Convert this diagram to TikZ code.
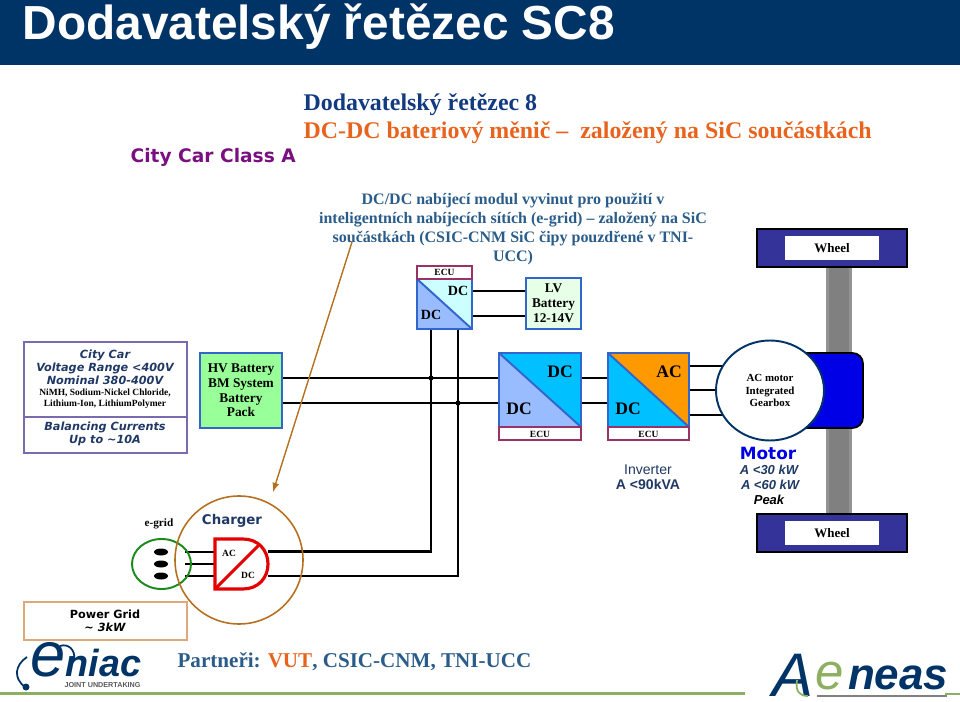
\documentclass[tikz,border=0pt]{standalone}
\usepackage{fontspec}
\setmainfont{Liberation Serif}
\setsansfont{Liberation Sans}
\newfontfamily\widefont{DejaVu Sans}
\usetikzlibrary{calc}
\definecolor{fhead}{HTML}{003366}
\definecolor{shead}{HTML}{123A80}
\definecolor{snote}{HTML}{2A5C8A}
\definecolor{sorange}{HTML}{E8641E}
\definecolor{sclass}{HTML}{7A1080}
\definecolor{snavy}{HTML}{1F3864}
\definecolor{sbox}{HTML}{3366CC}
\definecolor{secu}{HTML}{993366}
\definecolor{fhv}{HTML}{99FF99}
\definecolor{flv}{HTML}{E6FFE6}
\definecolor{fcyan}{HTML}{00C0FF}
\definecolor{fpale}{HTML}{99BBFF}
\definecolor{flight}{HTML}{CCFFFF}
\definecolor{forange}{HTML}{FF9900}
\definecolor{sbrown}{HTML}{B5701F}
\definecolor{sgreen}{HTML}{1B8A1B}
\definecolor{fwheel}{HTML}{33339A}
\definecolor{fmotor}{HTML}{0000E6}
\definecolor{sgrid}{HTML}{E0A878}
\definecolor{sleaf}{HTML}{8DB060}
\definecolor{sclassbox}{HTML}{7A6AB0}
\tikzset{
  bus/.style={line width=1.7pt,black},
  label/.style={align=center,inner sep=0pt,font=\fontsize{8}{9.5}\selectfont\bfseries},
  biglabel/.style={inner sep=0pt,font=\fontsize{10}{12}\selectfont\bfseries},
  ecutext/.style={inner sep=0pt,font=\fontsize{5.4}{6}\selectfont\bfseries},
  ecubox/.style={draw=secu,line width=0.9pt,fill=white},
  wheelbox/.style={draw=black,line width=0.6pt,fill=fwheel},
  wheeltext/.style={fill=white,minimum width=53.2pt,minimum height=13.6pt,inner sep=0pt,font=\fontsize{7.4}{8}\selectfont\bfseries},
  boxtext/.style={align=center,inner sep=0pt,text=snavy,font=\fontsize{6.4}{7.3}\selectfont\widefont\bfseries\itshape},
  conv/.style={draw=sbox,line width=1.1pt},
}
\begin{document}
\begin{tikzpicture}[x=0.02cm,y=-0.02cm,line width=0.7pt]
\useasboundingbox (0,0) rectangle (960,702);
% header
\fill[fhead] (0,0) rectangle (960,65);
\node[anchor=west,inner sep=0pt,text=white,font=\fontsize{27.2}{30}\selectfont\sffamily\bfseries] (title) at (22,27) {Dodavatelský řetězec SC8};
\node[anchor=west,inner sep=0pt,text=shead,font=\fontsize{13.6}{16}\selectfont\bfseries] (subtitle) at (303,105) {Dodavatelský řetězec 8};
\node[anchor=west,inner sep=0pt,text=sorange,font=\fontsize{13.6}{16}\selectfont\bfseries] (subtitleb) at (303,133) {DC-DC bateriový měnič -- \ založený na SiC součástkách};
\node[anchor=west,inner sep=0pt,text=sclass,font=\fontsize{10.6}{12}\selectfont\widefont\bfseries] (class) at (130,157) {City Car Class A};
\node[align=center,inner sep=0pt,text=snote,anchor=north,font=\fontsize{9.1}{10.8}\selectfont\bfseries] (note) at (513,192.5) {DC/DC nabíjecí modul vyvinut pro použití v\\inteligentních nabíjecích sítích (e-grid) -- založený na SiC\\součástkách (CSIC-CNM SiC čipy pouzdřené v TNI-\\UCC)};
% axle and wheels
\fill[gray!85] (826,267) rectangle (852,514);
\fill[gray] (829,267) rectangle (849,514);
\draw[wheelbox] (757,229) rectangle (907,267);
\node[wheeltext] (wheela) at (832,248) {Wheel};
\draw[wheelbox] (757,514) rectangle (907,552);
\node[wheeltext] (wheelb) at (832,533) {Wheel};
% buses
\coordinate (busa) at (431,329);
\coordinate (busb) at (458,329);
\coordinate (chgo) at (268,551.5);
\coordinate (chgu) at (268,576);
\draw[bus] (busa) -- (busa |- chgo) -- (chgo);
\draw[bus] (busb) -- (busb |- chgu) -- (chgu);
\draw[bus] (282,378) -- (499,378);
\draw[bus] (282,403) -- (499,403);
\fill (431,378) circle (2.6);
\fill (458,403) circle (2.6);
\draw[bus] (472,291) -- (526,291);
\draw[bus] (472,316) -- (526,316);
\draw[bus] (581,378) -- (608,378);
\draw[bus] (581,403) -- (608,403);
\draw[bus] (689,366) -- (730,366);
\draw[bus] (689,390) -- (730,390);
\draw[bus] (689,415) -- (730,415);
\draw[bus] (185,552) -- (215,552);
\draw[bus] (185,564) -- (215,564);
\draw[bus] (185,576) -- (215,576);
% left boxes
\draw[draw=sclassbox] (24,342) rectangle (187,453);
\draw[draw=sclassbox] (24,417) -- (187,417);
\node[boxtext] (range) at (105,367.5) {City Car\\Voltage Range <400V\\Nominal 380-400V};
\node[align=center,inner sep=0pt,font=\fontsize{5.4}{6.4}\selectfont\bfseries] (chem) at (105,399) {NiMH, Sodium-Nickel Chloride,\\Lithium-Ion, LithiumPolymer};
\node[boxtext] (balance) at (105,433.5) {Balancing Currents\\Up to \textasciitilde10A};
\draw[draw=sbox,line width=1.1pt,fill=fhv] (200,353) rectangle (282,428);
\node[label,font=\fontsize{7.6}{8.4}\selectfont\bfseries] (hv) at (241,390.5) {HV Battery\\BM System\\Battery\\Pack};
\draw[draw=sgrid] (24,602) rectangle (187,640);
\node[boxtext,text=black] (grid) at (105,620.5) {\upshape Power Grid\\\textasciitilde{} 3kW};
% top converter
\fill[flight] (417,279) rectangle (472,329);
\fill[fpale] (417,279) -- (472,329) -- (417,329) -- cycle;
\draw[conv] (417,279) rectangle (472,329);
\draw[conv] (417,279) -- (472,329);
\draw[ecubox] (417,266) rectangle (472,279);
\node[ecutext] (ecua) at (444.5,272.5) {ECU};
\node[label] (dca) at (458,291) {DC};
\node[label] (dcb) at (431,315) {DC};
\draw[conv,fill=flv] (526,278) rectangle (581,329);
\node[label,font=\fontsize{7.6}{8.6}\selectfont\bfseries] (lv) at (553.5,303.5) {LV\\Battery\\12-14V};
% main converter
\fill[fcyan] (499,353) rectangle (581,427);
\fill[fpale] (499,353) -- (581,427) -- (499,427) -- cycle;
\draw[conv] (499,353) rectangle (581,427);
\draw[conv] (499,353) -- (581,427);
\draw[ecubox] (499,427) rectangle (581,440);
\node[ecutext] (ecub) at (540,434) {ECU};
\node[biglabel] (dcc) at (560,372) {DC};
\node[biglabel] (dcd) at (519,409) {DC};
% inverter
\fill[forange] (608,353) rectangle (689,427);
\fill[fcyan] (608,353) -- (689,427) -- (608,427) -- cycle;
\draw[conv] (608,353) rectangle (689,427);
\draw[conv] (608,353) -- (689,427);
\draw[ecubox] (608,427) rectangle (689,440);
\node[ecutext] (ecuc) at (648.5,434) {ECU};
\node[biglabel] (ac) at (669,372) {AC};
\node[biglabel] (dce) at (628,409) {DC};
\node[align=center,inner sep=0pt,text=snavy,font=\fontsize{8}{8.6}\selectfont\sffamily] (inverter) at (648,477.5) {Inverter\\\textbf{A <90kVA}};
% motor
\draw[draw=black,line width=1pt,fill=fmotor,rounded corners=6pt] (790,353) rectangle (863,428);
\draw[draw=fhead,line width=1.1pt,fill=white] (770,390.5) ellipse (54 and 50);
\node[label,font=\fontsize{6.2}{7.2}\selectfont\bfseries] (motorin) at (770,390.5) {AC motor\\Integrated\\Gearbox};
\node[inner sep=0pt,text=fmotor,font=\fontsize{9.6}{11}\selectfont\widefont\bfseries] (motor) at (768,453) {Motor};
\node[align=center,inner sep=0pt,text=snavy,font=\fontsize{7.4}{8.6}\selectfont\sffamily\bfseries\itshape] (power) at (769,485) {A <30 kW\\\,A <60 kW\\\textcolor{black}{Peak}};
% charger
\draw[draw=sgreen,line width=1.1pt] (161.5,564) ellipse (29.5 and 25);
\fill (161,552) ellipse (7 and 3.5);
\fill (161,564) ellipse (7 and 3.5);
\fill (161,576) ellipse (7 and 3.5);
\draw[draw=sbrown,line width=0.9pt] (239,560) circle (64);
\node[inner sep=0pt,font=\fontsize{6.4}{8}\selectfont\bfseries] (egrid) at (159,524) {e-grid};
\node[inner sep=0pt,font=\fontsize{7.6}{9}\selectfont\widefont\bfseries,text=snavy] (charger) at (232,520.5) {Charger};
\draw[draw=red!90!black,line width=1.8pt,fill=white] (215,539) -- (243,539) .. controls (258,539) and (268,550) .. (268,564) .. controls (268,578) and (258,589) .. (243,589) -- (215,589) -- cycle;
\draw[draw=red!90!black,line width=1.8pt] (215,589) -- (259,545);
\node[ecutext] (acin) at (229,553) {AC};
\node[ecutext] (dcin) at (248,575) {DC};
% pointer
\coordinate (ptr) at (352,242);
\coordinate (ptrend) at (273,492);
\draw[-latex,draw=sbrown,line width=0.8pt] (ptr) -- (ptrend);
% footer
\draw[draw=sleaf,line width=1.2pt] (0,693.5) -- (745,693.5);
\node[anchor=west,inner sep=0pt,text=snote,font=\fontsize{12}{15}\selectfont\bfseries] (partners) at (177,662) {Partneři: \textcolor{sorange}{VUT}, CSIC-CNM, TNI-UCC};
% logos
\node[anchor=base west,inner sep=0pt,text=fhead,font=\sffamily\itshape] (eniac) at (30,676) {\fontsize{36}{36}\selectfont e\fontsize{21.5}{30}\selectfont\bfseries niac};
\node[anchor=west,inner sep=0pt,text=gray!70!black,font=\fontsize{4.1}{5}\selectfont\sffamily\bfseries] (joint) at (64,685) {JOINT UNDERTAKING};
\draw[draw=fhead,line width=1pt] (25,687) .. controls (13,678) and (15,665) .. (27,657);
\fill[fhead] (26,687) circle (3.5);
\draw[draw=fhead,line width=1pt] (60,646) .. controls (68,643) and (76,650) .. (74,660);
\node[anchor=base west,inner sep=0pt,text=fhead,font=\sffamily\itshape] (aeneas) at (772,689) {\fontsize{35}{36}\selectfont\raisebox{-4.5pt}{A}\kern1pt\fontsize{29}{36}\selectfont\textcolor{sleaf}{e}\kern2.5pt\fontsize{25}{36}\selectfont\bfseries neas};
\draw[draw=gray,line width=1.2pt] (817,696) -- (947,696);
\draw[draw=sleaf,line width=1.2pt] (945,694) -- (960,694);
\draw[draw=sleaf,line width=1pt] (797,680) .. controls (795,692) and (800,696) .. (808,696);
\end{tikzpicture}
\end{document}
